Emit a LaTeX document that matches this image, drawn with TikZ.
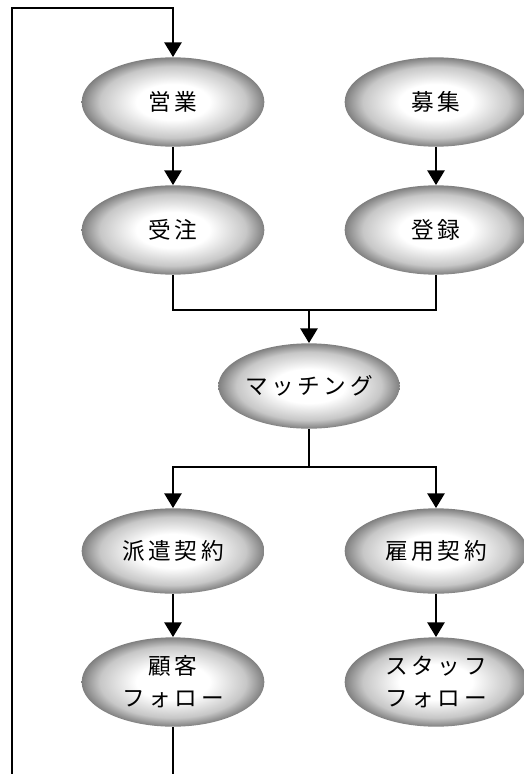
\documentclass[tikz,border=0pt]{standalone}
\usepackage{fontspec}
\newfontfamily\jp[LetterSpace=16]{Noto Sans CJK JP}
\usetikzlibrary{shapes.geometric,arrows.meta}
\pgfdeclareradialshading{ovalshade}{\pgfpoint{0bp}{0bp}}{color(0bp)=(white); color(10bp)=(white); color(20bp)=(black!22); color(25bp)=(black!50); color(50bp)=(black!50)}
\begin{document}
\begin{tikzpicture}[x=0.75pt,y=-0.75pt,
  oval/.style={ellipse, shading=ovalshade, minimum width=137pt, minimum height=67pt, inner sep=0pt,
    align=center, font=\jp\fontsize{17}{24}\selectfont},
  conn/.style={line width=1pt, black},
  arr/.style={conn, -{Triangle[width=13pt,length=11pt]}}]
\useasboundingbox[fill=white] (0,0) rectangle (524,774);
\node[oval] (eig) at (173,102) {営業};
\node[oval] (bos) at (436,102) {募集};
\node[oval] (juc) at (173,230) {受注};
\node[oval] (tor) at (436,230) {登録};
\node[oval, minimum width=136pt, minimum height=64pt] (mat) at (309,386) {マッチング};
\node[oval, minimum height=64pt] (hak) at (173,551) {派遣契約};
\node[oval, minimum height=64pt] (koy) at (436,551) {雇用契約};
\node[oval] (kok) at (173,682) {顧客\\フォロー};
\node[oval] (sta) at (436,682) {スタッフ\\フォロー};
\coordinate (j1) at (309,310);
\coordinate (s1) at (309,467);
\coordinate (lb) at (12,800);
\coordinate (lt) at (12,8);
\draw[arr] (eig) -- (juc);
\draw[arr] (bos) -- (tor);
\draw[conn] (juc.south) |- (j1);
\draw[conn] (tor.south) |- (j1);
\draw[arr] (j1) -- (mat.north);
\draw[conn] (mat.south) -- (s1);
\draw[arr] (s1) -| (hak.north);
\draw[arr] (s1) -| (koy.north);
\draw[arr] (hak) -- (kok);
\draw[arr] (koy) -- (sta);
\draw[arr] (kok.south) |- (lb) -- (lt) -| (eig.north);
\end{tikzpicture}
\end{document}
